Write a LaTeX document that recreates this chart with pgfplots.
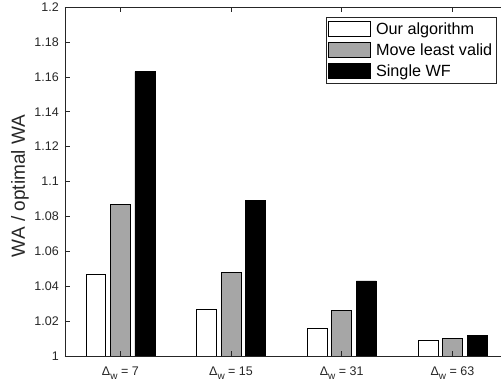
\documentclass[border=0pt]{standalone}
\usepackage{fontspec}
\setmainfont{Liberation Sans}
\usepackage{pgfplots}
\pgfplotsset{compat=1.18}
\definecolor{midgray}{RGB}{166,166,166}
\definecolor{axgray}{RGB}{38,38,38}
\newcommand{\dw}{Δ\raisebox{-0.5ex}{\fontsize{10}{12}\selectfont w}}
\begin{document}
\begin{tikzpicture}
\begin{axis}[
  scale only axis,
  width=436pt, height=349pt,
  xmin=-0.5, xmax=3.439,
  ymin=1, ymax=1.2,
  ytick={1,1.02,1.04,1.06,1.08,1.1,1.12,1.14,1.16,1.18,1.2},
  yticklabels={1,1.02,1.04,1.06,1.08,1.1,1.12,1.14,1.16,1.18,1.2},
  xtick={0,1,2,3},
  xticklabels={\dw{} = 7, \dw{} = 15, \dw{} = 31, \dw{} = 63},
  axis x line*=box,
  axis y line*=left,
  axis line style={axgray, line width=0.6pt},
  tick style={axgray, line width=0.6pt},
  tick align=inside,
  major tick length=5pt,
  axis on top,
  ticklabel style={font=\fontsize{12.5}{15}\selectfont, text=axgray},
  yticklabel style={inner sep=0pt, xshift=-6pt},
  xticklabel style={inner sep=0pt, yshift=-11pt},
  ylabel={WA / optimal WA},
  ylabel style={font=\fontsize{19}{22}\selectfont, text=axgray, at={(axis description cs:-0.0826,0.487)}, anchor=south, inner sep=0pt, rotate=0},
  legend style={at={(axis description cs:0.9908,0.9713)}, anchor=north east, draw=axgray, line width=0.5pt, fill=white,
     font=\fontsize{16.2}{19}\selectfont, text=black, inner xsep=1.5pt, inner ysep=4pt, row sep=5.5pt,
     nodes={inner xsep=3pt, inner ysep=1pt}},
  legend cell align=left,
  legend image code/.code={\draw[#1, line width=0.5pt] (0pt,-7.5pt) rectangle (42pt,7.5pt); \path (45pt,0pt);},
]
\addplot[ybar, bar width=0.18, bar shift=-0.222, fill=white, draw=black, line width=0.6pt]
  coordinates {(0,1.047) (1,1.027) (2,1.016) (3,1.009)};
\addlegendentry{Our algorithm}
\addplot[ybar, bar width=0.18, bar shift=0, fill=midgray, draw=black, line width=0.6pt]
  coordinates {(0,1.087) (1,1.048) (2,1.026) (3,1.010)};
\addlegendentry{Move least valid}
\addplot[ybar, bar width=0.18, bar shift=0.222, fill=black, draw=black, line width=0.6pt]
  coordinates {(0,1.163) (1,1.089) (2,1.043) (3,1.012)};
\addlegendentry{Single WF}
\coordinate (bl) at (rel axis cs:0,0);
\coordinate (tr) at (rel axis cs:1,1);
\end{axis}
\pgfresetboundingbox
\useasboundingbox ([shift={(-65pt,-33pt)}]bl) rectangle ([shift={(0pt,7pt)}]tr);
\end{tikzpicture}
\end{document}
